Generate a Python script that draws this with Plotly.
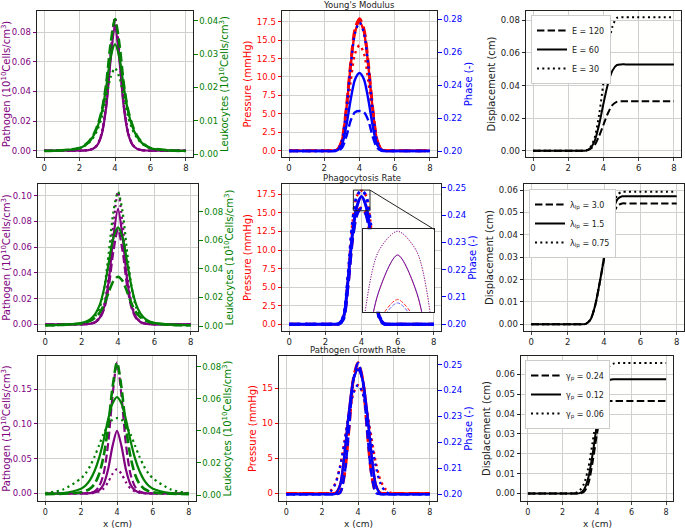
import plotly.graph_objects as go

FONT = "DejaVu Sans"
W, H = 685, 530

# ---------------- data ----------------
X = [0, 1, 2, 2.25, 2.5, 2.75, 3, 3.25, 3.5, 3.75, 4, 4.25, 4.5, 4.75, 5, 5.25, 5.5, 5.75, 6, 7, 8]

# Row 1 : Young's modulus (E = 120 dashed, 60 solid, 30 dotted)
PATH_E120 = [0, 0, 0, 0.0001, 0.0004, 0.0012, 0.0038, 0.0113, 0.030, 0.063, 0.088, 0.063, 0.030, 0.0113, 0.0038, 0.0012, 0.0004, 0.0001, 0, 0, 0]
PATH_E60 = [0, 0, 0, 0.0001, 0.0004, 0.0012, 0.0037, 0.011, 0.029, 0.061, 0.085, 0.061, 0.029, 0.011, 0.0037, 0.0012, 0.0004, 0.0001, 0, 0, 0]
PATH_E30 = [0, 0, 0, 0.0001, 0.0004, 0.0013, 0.004, 0.012, 0.032, 0.066, 0.090, 0.066, 0.032, 0.012, 0.004, 0.0013, 0.0004, 0.0001, 0, 0, 0]
LEUK_E120 = [0.001, 0.0012, 0.0019, 0.0026, 0.0037, 0.0055, 0.0085, 0.013, 0.021, 0.033, 0.0405, 0.033, 0.021, 0.013, 0.0085, 0.0055, 0.0037, 0.0026, 0.0019, 0.0012, 0.001]
LEUK_E60 = [0.001, 0.0012, 0.0018, 0.0025, 0.0035, 0.0052, 0.008, 0.0125, 0.020, 0.029, 0.033, 0.029, 0.020, 0.0125, 0.008, 0.0052, 0.0035, 0.0025, 0.0018, 0.0012, 0.001]
LEUK_E30 = [0.001, 0.0012, 0.0018, 0.0024, 0.0033, 0.0048, 0.0072, 0.011, 0.017, 0.023, 0.0258, 0.023, 0.017, 0.011, 0.0072, 0.0048, 0.0033, 0.0024, 0.0018, 0.0012, 0.001]
PRES_E120 = [0, 0, 0, 0, 0, 0.18, 1.4, 5.7, 11.8, 16.5, 17.9, 16.5, 11.8, 5.7, 1.4, 0.18, 0, 0, 0, 0, 0]
PRES_E60 = [0, 0, 0, 0, 0, 0.17, 1.4, 5.6, 11.55, 16.1, 17.5, 16.1, 11.55, 5.6, 1.4, 0.17, 0, 0, 0, 0, 0]
PRES_E30 = [0, 0, 0, 0, 0, 0.14, 1.15, 4.6, 9.4, 13.2, 14.3, 13.2, 9.4, 4.6, 1.15, 0.14, 0, 0, 0, 0, 0]
PHASE_E120 = [0.2, 0.2, 0.2, 0.2, 0.2, 0.2002, 0.2019, 0.2087, 0.2185, 0.2236, 0.2243, 0.2236, 0.2185, 0.2087, 0.2019, 0.2002, 0.2, 0.2, 0.2, 0.2, 0.2]
PHASE_E60 = [0.2, 0.2, 0.2, 0.2, 0.2, 0.2005, 0.2038, 0.2152, 0.2313, 0.2436, 0.2474, 0.2436, 0.2313, 0.2152, 0.2038, 0.2005, 0.2, 0.2, 0.2, 0.2, 0.2]
PHASE_E30 = [0.2, 0.2, 0.2, 0.2, 0.2, 0.2008, 0.2062, 0.225, 0.2515, 0.2718, 0.278, 0.2718, 0.2515, 0.225, 0.2062, 0.2008, 0.2, 0.2, 0.2, 0.2, 0.2]
DISP_E120 = [0, 0, 0, 0, 0, 0, 0, 0.001, 0.0035, 0.009, 0.016, 0.023, 0.028, 0.030, 0.0303, 0.0303, 0.0303, 0.0303, 0.0303, 0.0303, 0.0303]
DISP_E60 = [0, 0, 0, 0, 0, 0, 0, 0.0015, 0.006, 0.016, 0.029, 0.041, 0.049, 0.0525, 0.053, 0.053, 0.053, 0.053, 0.053, 0.053, 0.053]
DISP_E30 = [0, 0, 0, 0, 0, 0, 0, 0.002, 0.008, 0.022, 0.042, 0.062, 0.076, 0.0815, 0.082, 0.082, 0.082, 0.082, 0.082, 0.082, 0.082]

# Row 2 : phagocytosis rate (lambda_lp = 3.0 dashed, 1.5 solid, 0.75 dotted)
PATH_L30 = [0, 0, 0, 0.0001, 0.0005, 0.0016, 0.0047, 0.0125, 0.030, 0.057, 0.0738, 0.057, 0.030, 0.0125, 0.0047, 0.0016, 0.0005, 0.0001, 0, 0, 0]
PATH_L15 = [0, 0, 0, 0.0001, 0.0005, 0.0017, 0.0052, 0.014, 0.035, 0.068, 0.0897, 0.068, 0.035, 0.014, 0.0052, 0.0017, 0.0005, 0.0001, 0, 0, 0]
PATH_L075 = [0, 0, 0, 0.0002, 0.0006, 0.002, 0.006, 0.016, 0.040, 0.078, 0.103, 0.078, 0.040, 0.016, 0.006, 0.002, 0.0006, 0.0002, 0, 0, 0]
LEUK_L30 = [0.0005, 0.0008, 0.0018, 0.0026, 0.0038, 0.006, 0.0095, 0.0155, 0.024, 0.0315, 0.0345, 0.0315, 0.024, 0.0155, 0.0095, 0.006, 0.0038, 0.0026, 0.0018, 0.0008, 0.0005]
LEUK_L15 = [0.0005, 0.0009, 0.0022, 0.0032, 0.005, 0.0085, 0.015, 0.027, 0.045, 0.062, 0.069, 0.062, 0.045, 0.027, 0.015, 0.0085, 0.005, 0.0032, 0.0022, 0.0009, 0.0005]
LEUK_L075 = [0.0005, 0.0008, 0.002, 0.0028, 0.0042, 0.007, 0.013, 0.027, 0.052, 0.080, 0.094, 0.080, 0.052, 0.027, 0.013, 0.007, 0.0042, 0.0028, 0.002, 0.0008, 0.0005]
PRES_L30 = [0, 0, 0, 0, 0, 0.07, 0.8, 5.2, 11.5, 14.9, 15.7, 14.9, 11.5, 5.2, 0.8, 0.07, 0, 0, 0, 0, 0]
PRES_L15 = [0, 0, 0, 0, 0, 0.08, 0.9, 5.8, 12.2, 15.9, 17.2, 15.9, 12.2, 5.8, 0.9, 0.08, 0, 0, 0, 0, 0]
PRES_L075 = [0, 0, 0, 0, 0, 0.1, 1.1, 6.5, 13.7, 17.3, 18.0, 17.3, 13.7, 6.5, 1.1, 0.1, 0, 0, 0, 0, 0]
PHASE_L30 = [0.2, 0.2, 0.2, 0.2, 0.2, 0.2, 0.2018, 0.2138, 0.2310, 0.2402, 0.2424, 0.2402, 0.2310, 0.2138, 0.2018, 0.2, 0.2, 0.2, 0.2, 0.2, 0.2]
PHASE_L15 = [0.2, 0.2, 0.2, 0.2, 0.2, 0.2002, 0.2024, 0.2158, 0.2332, 0.2433, 0.2468, 0.2433, 0.2332, 0.2158, 0.2024, 0.2002, 0.2, 0.2, 0.2, 0.2, 0.2]
PHASE_L075 = [0.2, 0.2, 0.2, 0.2, 0.2, 0.2002, 0.2030, 0.2177, 0.2373, 0.2471, 0.2490, 0.2471, 0.2373, 0.2177, 0.2030, 0.2002, 0.2, 0.2, 0.2, 0.2, 0.2]
DISP_L30 = [0, 0, 0, 0, 0, 0, 0.0002, 0.002, 0.008, 0.018, 0.029, 0.040, 0.049, 0.053, 0.054, 0.054, 0.054, 0.054, 0.054, 0.054, 0.054]
DISP_L15 = [0, 0, 0, 0, 0, 0, 0.0002, 0.002, 0.008, 0.018, 0.0295, 0.041, 0.051, 0.056, 0.0572, 0.0572, 0.0572, 0.0572, 0.0572, 0.0572, 0.0572]
DISP_L075 = [0, 0, 0, 0, 0, 0, 0.0002, 0.002, 0.008, 0.018, 0.030, 0.042, 0.053, 0.058, 0.0592, 0.0592, 0.0592, 0.0592, 0.0592, 0.0592, 0.0592]

# Row 3 : pathogen growth rate (gamma_p = 0.24 dashed, 0.12 solid, 0.06 dotted)
PATH_G024 = [0, 0, 0, 0.0002, 0.001, 0.003, 0.010, 0.028, 0.070, 0.140, 0.188, 0.140, 0.070, 0.028, 0.010, 0.003, 0.001, 0.0002, 0, 0, 0]
PATH_G012 = [0, 0, 0, 0.0001, 0.0004, 0.0013, 0.0045, 0.013, 0.034, 0.068, 0.090, 0.068, 0.034, 0.013, 0.0045, 0.0013, 0.0004, 0.0001, 0, 0, 0]
PATH_G006 = [0, 0, 0, 0.0001, 0.0003, 0.001, 0.0028, 0.007, 0.016, 0.028, 0.035, 0.028, 0.016, 0.007, 0.0028, 0.001, 0.0003, 0.0001, 0, 0, 0]
LEUK_G024 = [0.0006, 0.0008, 0.0017, 0.0025, 0.004, 0.007, 0.013, 0.024, 0.042, 0.067, 0.0827, 0.067, 0.042, 0.024, 0.013, 0.007, 0.004, 0.0025, 0.0017, 0.0008, 0.0006]
LEUK_G012 = [0.0008, 0.0012, 0.004, 0.006, 0.0095, 0.015, 0.023, 0.034, 0.047, 0.057, 0.061, 0.057, 0.047, 0.034, 0.023, 0.015, 0.0095, 0.006, 0.004, 0.0012, 0.0008]
LEUK_G006 = [0.0012, 0.0035, 0.0105, 0.0135, 0.018, 0.024, 0.031, 0.038, 0.0435, 0.047, 0.048, 0.047, 0.0435, 0.038, 0.031, 0.024, 0.018, 0.0135, 0.0105, 0.0035, 0.0012]
PRES_G024 = [0, 0, 0, 0, 0, 0, 0.19, 2.8, 9.3, 16.4, 18.6, 16.4, 9.3, 2.8, 0.19, 0, 0, 0, 0, 0, 0]
PRES_G012 = [0, 0, 0, 0, 0, 0.09, 1.24, 5.7, 11.7, 16.3, 17.7, 16.3, 11.7, 5.7, 1.24, 0.09, 0, 0, 0, 0, 0]
PRES_G006 = [0, 0, 0, 0.08, 0.46, 1.54, 3.85, 7.4, 11.4, 14.3, 15.4, 14.4, 11.7, 7.9, 4.3, 1.9, 0.7, 0.15, 0.02, 0, 0]
PHASE_G024 = [0.2, 0.2, 0.2, 0.2, 0.2, 0.2, 0.2005, 0.2076, 0.2253, 0.2445, 0.2506, 0.2445, 0.2253, 0.2076, 0.2005, 0.2, 0.2, 0.2, 0.2, 0.2, 0.2]
PHASE_G012 = [0.2, 0.2, 0.2, 0.2, 0.2, 0.2002, 0.2034, 0.2154, 0.2318, 0.2443, 0.2481, 0.2443, 0.2318, 0.2154, 0.2034, 0.2002, 0.2, 0.2, 0.2, 0.2, 0.2]
PHASE_G006 = [0.2, 0.2, 0.2, 0.2002, 0.2013, 0.2042, 0.2105, 0.2202, 0.2312, 0.2392, 0.2421, 0.2392, 0.2312, 0.2202, 0.2105, 0.2042, 0.2013, 0.2002, 0.2, 0.2, 0.2]
DISP_G024 = [0, 0, 0, 0, 0, 0, 0, 0.0008, 0.005, 0.016, 0.030, 0.041, 0.0455, 0.0465, 0.0465, 0.0465, 0.0465, 0.0465, 0.0465, 0.0465, 0.0465]
DISP_G012 = [0, 0, 0, 0, 0, 0, 0.0002, 0.002, 0.008, 0.020, 0.035, 0.048, 0.055, 0.0572, 0.0575, 0.0575, 0.0575, 0.0575, 0.0575, 0.0575, 0.0575]
DISP_G006 = [0, 0, 0, 0, 0, 0.0003, 0.0015, 0.005, 0.013, 0.026, 0.041, 0.053, 0.061, 0.0645, 0.0655, 0.0657, 0.0657, 0.0657, 0.0657, 0.0657, 0.0657]

ROW_TITLES = ["Young's Modulus", "Phagocytosis Rate", "Pathogen Growth Rate"]
X_TITLE = "x (cm)"
LEG_E = ["E = 120", "E = 60", "E = 30"]
LEG_L = ["λ<sub>lp</sub> = 3.0", "λ<sub>lp</sub> = 1.5", "λ<sub>lp</sub> = 0.75"]
LEG_G = ["γ<sub>p</sub> = 0.24", "γ<sub>p</sub> = 0.12", "γ<sub>p</sub> = 0.06"]
STYLES = ["dash", "solid", "dot"]

ROWS = [
    dict(path=[PATH_E120, PATH_E60, PATH_E30], leuk=[LEUK_E120, LEUK_E60, LEUK_E30],
         pres=[PRES_E120, PRES_E60, PRES_E30], phase=[PHASE_E120, PHASE_E60, PHASE_E30],
         disp=[DISP_E120, DISP_E60, DISP_E30], leg=LEG_E),
    dict(path=[PATH_L30, PATH_L15, PATH_L075], leuk=[LEUK_L30, LEUK_L15, LEUK_L075],
         pres=[PRES_L30, PRES_L15, PRES_L075], phase=[PHASE_L30, PHASE_L15, PHASE_L075],
         disp=[DISP_L30, DISP_L15, DISP_L075], leg=LEG_L),
    dict(path=[PATH_G024, PATH_G012, PATH_G006], leuk=[LEUK_G024, LEUK_G012, LEUK_G006],
         pres=[PRES_G024, PRES_G012, PRES_G006], phase=[PHASE_G024, PHASE_G012, PHASE_G006],
         disp=[DISP_G024, DISP_G012, DISP_G006], leg=LEG_G),
]

# ---------------- layout geometry (pixels) ----------------
BOX = {1: (37, 193, 11, 157), 2: (282, 437, 11, 157), 3: (526, 681, 11, 157),
       4: (38, 198, 184, 331), 5: (282, 441, 184, 331), 6: (524, 684, 184, 331),
       7: (38, 196, 356, 501), 8: (279, 437, 356, 501), 9: (521, 673, 356, 501)}
XR = [-0.4, 8.4]
YPRI = {1: ([-0.0043, 0.0944], 0, 0.02, '.2f'), 2: ([-0.86, 18.95], 0, 2.5, '.1f'),
        3: ([-0.0039, 0.0858], 0, 0.02, '.2f'), 4: ([-0.0052, 0.1091], 0, 0.02, '.2f'),
        5: ([-0.9, 18.89], 0, 2.5, '.1f'), 6: ([-0.003, 0.0627], 0, 0.01, '.2f'),
        7: ([-0.0108, 0.1974], 0, 0.05, '.2f'), 8: ([-1.07, 19.56], 0, 5, 'd'),
        9: ([-0.0038, 0.0692], 0, 0.01, '.2f')}
YSEC = {1: ([-0.0008, 0.0429], 0, 0.01, '.2f'), 2: ([0.1964, 0.285], 0.2, 0.02, '.2f'),
        4: ([-0.0035, 0.0994], 0, 0.02, '.2f'), 5: ([0.1975, 0.2514], 0.2, 0.01, '.2f'),
        7: ([-0.0037, 0.0867], 0, 0.02, '.2f'), 8: ([0.1974, 0.2533], 0.2, 0.01, '.2f')}
SEC_ID = {1: 10, 2: 11, 4: 12, 5: 13, 7: 14, 8: 15}
INSET_BOX = (362.7, 434, 229.3, 311.7)
INSET_XR = [3.55, 4.47]
INSET_PR = [15.29, 18.07]
LEG_POS = [(531, 15), (529, 189), (525, 360)]

PURPLE, GREEN, RED, BLUE = '#800080', '#008000', '#ff0000', '#0000ff'
PATH_T = "Pathogen (10<sup>10</sup>Cells/cm<sup>3</sup>)"
LEUK_T = "Leukocytes (10<sup>10</sup>Cells/cm<sup>3</sup>)"


def dx(l, r):
    return [l / W, r / W]


def dy(t, b):
    return [1 - b / H, 1 - t / H]


def ax_name(kind, k):
    return kind if k == 1 else f"{kind}{k}"


def ax_ref(kind, k):
    return kind if k == 1 else f"{kind}{k}"


def dash_of(style, w):
    if style == 'dash':
        return f"{3.7 * w:.1f}px,{1.6 * w:.1f}px"
    if style == 'dot':
        return f"{1.0 * w:.1f}px,{1.65 * w:.1f}px"
    return 'solid'


fig = go.Figure()


def add_line(k_x, k_y, ys, color, style, width, name=None, legend=None, opacity=1.0):
    fig.add_trace(go.Scatter(
        x=X, y=ys, xaxis=ax_ref('x', k_x), yaxis=ax_ref('y', k_y), mode='lines',
        line=dict(color=color, dash=dash_of(style, width), width=width, shape='spline', smoothing=0.8),
        opacity=opacity, name=name if name else '', showlegend=legend is not None,
        legend=legend if legend else 'legend', hoverinfo='skip'))


for r, row in enumerate(ROWS):
    kl, km, kr = 3 * r + 1, 3 * r + 2, 3 * r + 3
    for i, s in enumerate(STYLES):
        add_line(kl, kl, row['path'][i], PURPLE, s, 2.2)
    for i, s in enumerate(STYLES):
        add_line(kl, SEC_ID[kl], row['leuk'][i], GREEN, s, 2.6 if s == 'dash' else 2.2)
    for i, s in enumerate(STYLES):
        add_line(km, km, row['pres'][i], RED, s, 3.0 if s == 'dash' else 2.4)
    for i, s in enumerate(STYLES):
        add_line(km, SEC_ID[km], row['phase'][i], BLUE, s, 3.0 if r == 1 else 2.4)
    legname = 'legend' if r == 0 else f'legend{r + 1}'
    for i, s in enumerate(STYLES):
        add_line(kr, kr, row['disp'][i], 'black', s, 2.0, name=row['leg'][i], legend=legname)

# inset traces (phagocytosis row)
INSET_PH = [YSEC[5][0][0] + (p - YPRI[5][0][0]) / (YPRI[5][0][1] - YPRI[5][0][0]) * (YSEC[5][0][1] - YSEC[5][0][0])
            for p in INSET_PR]
for i, s in enumerate(STYLES):
    add_line(10, 16, ROWS[1]['pres'][i], RED, s, 1.0, opacity=0.8)
for i, s in enumerate(STYLES):
    add_line(10, 17, ROWS[1]['phase'][i], BLUE, s, 1.0, opacity=0.6)

layout = dict(width=W, height=H, margin=dict(l=0, r=0, t=0, b=0, autoexpand=False),
              paper_bgcolor='white', plot_bgcolor='#fffffe',
              font=dict(family=FONT, size=9, color='#222222'), hovermode=False)

AX_COMMON = dict(showline=True, linecolor='#222222', linewidth=1, mirror=True, ticks='outside',
                 ticklen=3.5, tickwidth=1, showgrid=True, gridcolor='#d0d0d0', gridwidth=1,
                 zeroline=False, automargin=False, tickfont=dict(family=FONT, size=8.5))

PRI_COL = {0: PURPLE, 1: RED, 2: '#222222'}
PRI_TIT = {0: PATH_T, 1: "Pressure (mmHg)", 2: "Displacement (cm)"}
SEC_COL = {0: GREEN, 1: BLUE}
SEC_TIT = {0: LEUK_T, 1: "Phase (-)"}

for k in range(1, 10):
    l, rgt, t, b = BOX[k]
    r, c = (k - 1) // 3, (k - 1) % 3
    layout[ax_name('xaxis', k)] = dict(AX_COMMON, domain=dx(l, rgt), range=XR, anchor=ax_ref('y', k),
                                       tick0=0, dtick=2, ticklen=3,
                                       tickfont=dict(family=FONT, size=8.5 if r < 2 else 8, color='#222222'))
    rng, t0, dt, fmt = YPRI[k]
    col = PRI_COL[c]
    layout[ax_name('yaxis', k)] = dict(
        AX_COMMON, domain=dy(t, b), range=rng, anchor=ax_ref('x', k), tick0=t0, dtick=dt, tickformat=fmt,
        tickcolor=col if c < 2 else '#222222', tickfont=dict(family=FONT, size=8.5, color=col),
        title=dict(text=PRI_TIT[c], font=dict(family=FONT, size=10, color=col), standoff=3))
    if k in SEC_ID:
        rng, t0, dt, fmt = YSEC[k]
        col = SEC_COL[c]
        layout[f'yaxis{SEC_ID[k]}'] = dict(
            overlaying=ax_ref('y', k), side='right', anchor=ax_ref('x', k), range=rng, showgrid=False,
            zeroline=False, showline=False, automargin=False, ticks='outside', ticklen=3.5, tickwidth=1,
            tickcolor=col, tick0=t0, dtick=dt, tickformat=fmt, tickfont=dict(family=FONT, size=8.5, color=col),
            title=dict(text=SEC_TIT[c], font=dict(family=FONT, size=10, color=col), standoff=3))

# inset axes
il, ir, it, ib = INSET_BOX
layout['xaxis10'] = dict(domain=dx(il, ir), range=INSET_XR, anchor='y16', showline=True, mirror=True,
                         linecolor='#222222', linewidth=1, showticklabels=False, ticks='', showgrid=False,
                         zeroline=False, automargin=False)
layout['yaxis16'] = dict(domain=dy(it, ib), range=INSET_PR, anchor='x10', showline=True, mirror=True,
                         linecolor='#222222', linewidth=1, showticklabels=False, ticks='', showgrid=False,
                         zeroline=False, automargin=False)
layout['yaxis17'] = dict(overlaying='y16', anchor='x10', side='right', range=INSET_PH, showticklabels=False,
                         ticks='', showgrid=False, zeroline=False, showline=False, automargin=False)

# legends
for r, (lx, ly) in enumerate(LEG_POS):
    key = 'legend' if r == 0 else f'legend{r + 1}'
    layout[key] = dict(x=lx / W, y=1 - ly / H, xanchor='left', yanchor='top', bgcolor='white',
                       bordercolor='#cccccc', borderwidth=1, font=dict(family=FONT, size=8, color='#222222'),
                       tracegroupgap=0, itemwidth=30)

# titles
ann = []
for r, title in enumerate(ROW_TITLES):
    l, rgt, t, b = BOX[3 * r + 2]
    ann.append(dict(text=title, x=(l + rgt) / 2 / W, y=1 - t / H, xref='paper', yref='paper',
                    xanchor='center', yanchor='bottom', yshift=-1, showarrow=False,
                    font=dict(family=FONT, size=8.5, color='#222222')))
for k in (7, 8, 9):
    l, rgt, t, b = BOX[k]
    ann.append(dict(text=X_TITLE, x=(l + rgt) / 2 / W, y=1 - 530 / H, xref='paper', yref='paper',
                    xanchor='center', yanchor='bottom', showarrow=False, borderpad=0,
                    font=dict(family=FONT, size=9, color='#222222')))
layout['annotations'] = ann

# zoom box + connector
l5, r5, t5, b5 = BOX[5]
xr5 = XR
pr5 = YPRI[5][0]


def to_paper(x, y):
    px = (l5 + (x - xr5[0]) / (xr5[1] - xr5[0]) * (r5 - l5)) / W
    py = 1 - (b5 - (y - pr5[0]) / (pr5[1] - pr5[0]) * (b5 - t5)) / H
    return px, py


cx, cy = to_paper(INSET_XR[1], INSET_PR[1])
layout['shapes'] = [
    dict(type='rect', xref='x5', yref='y5', x0=INSET_XR[0], x1=INSET_XR[1], y0=INSET_PR[0], y1=INSET_PR[1],
         line=dict(color='#222222', width=1), layer='above'),
    dict(type='line', xref='paper', yref='paper', x0=cx, y0=cy, x1=ir / W, y1=1 - it / H,
         line=dict(color='#222222', width=1), layer='above'),
]

fig.update_layout(**layout)
fig.write_html("out.html", config={'displayModeBar': False},
               post_script="document.body.style.margin='0';document.body.style.overflow='hidden';")
